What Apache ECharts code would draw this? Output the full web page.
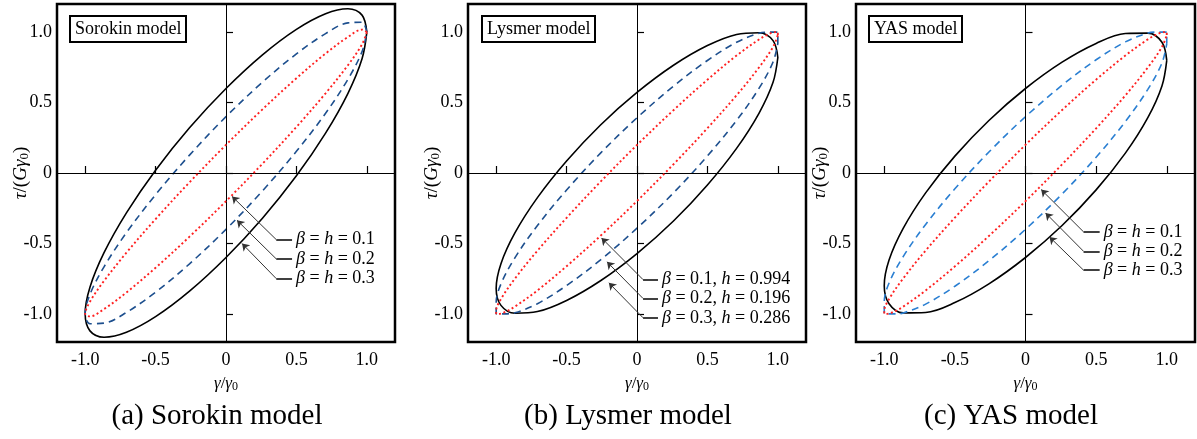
<!DOCTYPE html>
<html>
<head>
<meta charset="utf-8">
<script src="https://cdn.jsdelivr.net/npm/echarts@6/dist/echarts.min.js"></script>
<style>
html,body{margin:0;padding:0;background:#fff;}
#c{width:1197px;height:439px;}
</style>
</head>
<body>
<div id="c"></div>
<script>
// ---------- data ----------
const tickValues = [-1, -0.5, 0, 0.5, 1];

// (a) Sorokin model
const sorokinB03 = [[1,1],[0.966,1.121],[0.866,1.166],[0.707,1.131],[0.5,1.02],[0.259,0.839],[0,0.6],[-0.259,0.321],[-0.5,0.02],[-0.707,-0.283],[-0.866,-0.566],[-0.966,-0.811],[-1,-1],[-0.966,-1.121],[-0.866,-1.166],[-0.707,-1.131],[-0.5,-1.02],[-0.259,-0.839],[0,-0.6],[0.259,-0.321],[0.5,-0.02],[0.707,0.283],[0.866,0.566],[0.966,0.811],[1,1]];
const sorokinB02 = [[1,1],[0.966,1.07],[0.866,1.066],[0.707,0.99],[0.5,0.846],[0.259,0.645],[0,0.4],[-0.259,0.127],[-0.5,-0.154],[-0.707,-0.424],[-0.866,-0.666],[-0.966,-0.862],[-1,-1],[-0.966,-1.07],[-0.866,-1.066],[-0.707,-0.99],[-0.5,-0.846],[-0.259,-0.645],[0,-0.4],[0.259,-0.127],[0.5,0.154],[0.707,0.424],[0.866,0.666],[0.966,0.862],[1,1]];
const sorokinB01 = [[1,1],[0.966,1.018],[0.866,0.966],[0.707,0.848],[0.5,0.673],[0.259,0.452],[0,0.2],[-0.259,-0.066],[-0.5,-0.327],[-0.707,-0.566],[-0.866,-0.766],[-0.966,-0.914],[-1,-1],[-0.966,-1.018],[-0.866,-0.966],[-0.707,-0.848],[-0.5,-0.673],[-0.259,-0.452],[0,-0.2],[0.259,0.066],[0.5,0.327],[0.707,0.566],[0.866,0.766],[0.966,0.914],[1,1]];

// (b) Lysmer model
const lysmerB03 = [[1,0.82],[0.966,0.94],[0.866,0.996],[0.707,0.984],[0.5,0.905],[0.259,0.765],[0,0.572],[-0.259,0.341],[-0.5,0.085],[-0.707,-0.175],[-0.866,-0.424],[-0.966,-0.644],[-1,-0.82],[-0.966,-0.94],[-0.866,-0.996],[-0.707,-0.984],[-0.5,-0.905],[-0.259,-0.765],[0,-0.572],[0.259,-0.341],[0.5,-0.085],[0.707,0.175],[0.866,0.424],[0.966,0.644],[1,0.82]];
const lysmerB02 = [[1,0.92],[1,1],[0.92,1],[0.866,0.993],[0.707,0.928],[0.5,0.799],[0.259,0.617],[0,0.392],[-0.259,0.141],[-0.5,-0.121],[-0.707,-0.373],[-0.866,-0.601],[-0.966,-0.788],[-1,-0.92],[-1,-1],[-0.92,-1],[-0.866,-0.993],[-0.707,-0.928],[-0.5,-0.799],[-0.259,-0.617],[0,-0.392],[0.259,-0.141],[0.5,0.121],[0.707,0.373],[0.866,0.601],[0.966,0.788],[1,0.92]];
const lysmerB01 = [[1,0.98],[1,1],[0.98,1],[0.924,0.981],[0.866,0.948],[0.707,0.834],[0.5,0.662],[0.259,0.446],[0,0.199],[-0.259,-0.062],[-0.5,-0.318],[-0.707,-0.552],[-0.866,-0.749],[-0.966,-0.895],[-1,-0.98],[-1,-1],[-0.98,-1],[-0.924,-0.981],[-0.866,-0.948],[-0.707,-0.834],[-0.5,-0.662],[-0.259,-0.446],[0,-0.199],[0.259,0.062],[0.5,0.318],[0.707,0.552],[0.866,0.749],[0.966,0.895],[1,0.98]];

// (c) YAS model
const yasB03 = [[1,0.8],[0.966,0.928],[0.866,0.993],[0.707,0.99],[0.5,0.92],[0.259,0.787],[0,0.6],[-0.259,0.373],[-0.5,0.12],[-0.707,-0.141],[-0.866,-0.393],[-0.966,-0.618],[-1,-0.8],[-0.966,-0.928],[-0.866,-0.993],[-0.707,-0.99],[-0.5,-0.92],[-0.259,-0.787],[0,-0.6],[0.259,-0.373],[0.5,-0.12],[0.707,0.141],[0.866,0.393],[0.966,0.618],[1,0.8]];
const yasB02 = [[1,0.917],[1,1],[0.917,1],[0.866,0.994],[0.707,0.931],[0.5,0.804],[0.259,0.623],[0,0.4],[-0.259,0.149],[-0.5,-0.112],[-0.707,-0.365],[-0.866,-0.594],[-0.966,-0.781],[-1,-0.917],[-1,-1],[-0.917,-1],[-0.866,-0.994],[-0.707,-0.931],[-0.5,-0.804],[-0.259,-0.623],[0,-0.4],[0.259,-0.149],[0.5,0.112],[0.707,0.365],[0.866,0.594],[0.966,0.781],[1,0.917]];
const yasB01 = [[1,0.98],[1,1],[0.98,1],[0.924,0.981],[0.866,0.949],[0.707,0.834],[0.5,0.663],[0.259,0.447],[0,0.2],[-0.259,-0.061],[-0.5,-0.317],[-0.707,-0.551],[-0.866,-0.749],[-0.966,-0.895],[-1,-0.98],[-1,-1],[-0.98,-1],[-0.924,-0.981],[-0.866,-0.949],[-0.707,-0.834],[-0.5,-0.663],[-0.259,-0.447],[0,-0.2],[0.259,0.061],[0.5,0.317],[0.707,0.551],[0.866,0.749],[0.966,0.895],[1,0.98]];

const panelTitles = ['Sorokin model', 'Lysmer model', 'YAS model'];
const captions = ['(a) Sorokin model', '(b) Lysmer model', '(c) YAS model'];
const sorokinNotes = ['β = h = 0.1', 'β = h = 0.2', 'β = h = 0.3'];
const lysmerNotes = ['β = 0.1, h = 0.994', 'β = 0.2, h = 0.196', 'β = 0.3, h = 0.286'];
const yasNotes = ['β = h = 0.1', 'β = h = 0.2', 'β = h = 0.3'];

// annotation anchors (data units): arrow tips, elbow y's
const sorokinTips = [[0.043,-0.166],[0.078,-0.336],[0.114,-0.501]];
const sorokinElbowY = [-0.473,-0.61,-0.75];
const lysmerTips = [[-0.252,-0.461],[-0.213,-0.631],[-0.2,-0.78]];
const lysmerElbowY = [-0.757,-0.891,-1.028];
const yasTips = [[0.111,-0.118],[0.142,-0.284],[0.17,-0.454]];
const yasElbowY = [-0.418,-0.556,-0.69];

// ---------- layout / style ----------
const FONT = '"Liberation Serif", "Times New Roman", "DejaVu Serif", serif';
const RED = '#ff2020';
const panels = [
  {loops:[sorokinB03, sorokinB02, sorokinB01], blue:'#1d4f8e', tips:sorokinTips, ey:sorokinElbowY, ex:0.357, hx:0.469, notes:sorokinNotes,
   grid:{left:57, top:4, width:338, height:338}, boxLeft:70, capX:217},
  {loops:[lysmerB03, lysmerB02, lysmerB01], blue:'#1d4f8e', tips:lysmerTips, ey:lysmerElbowY, ex:0.043, hx:0.149, notes:lysmerNotes,
   grid:{left:468, top:4, width:338, height:338}, boxLeft:482, capX:628},
  {loops:[yasB03, yasB02, yasB01], blue:'#2a7fd2', tips:yasTips, ey:yasElbowY, ex:0.411, hx:0.525, notes:yasNotes,
   grid:{left:856, top:4, width:339, height:338}, boxLeft:869, capX:1011}
];

const fmt = v => (v === 0 ? '0' : v.toFixed(1));
const italicize = s => s.replace('β', '{i|β}').replace(' h ', ' {i|h} ');

const grids = [], xAxes = [], yAxes = [], series = [], titles = [], graphics = [];
panels.forEach((p, i) => {
  grids.push(Object.assign({show:true, borderColor:'#000', borderWidth:2.5, backgroundColor:'transparent'}, p.grid));
  xAxes.push({
    type:'value', gridIndex:i, min:-1.2, max:1.2, position:'bottom',
    axisLine:{show:false}, splitLine:{show:false},
    axisTick:{show:true, inside:true, length:7, customValues:tickValues, lineStyle:{color:'#000', width:1.2}},
    axisLabel:{customValues:tickValues, formatter:fmt, color:'#000', fontSize:18, fontFamily:FONT, margin:9},
    name:'{i|γ}/{i|γ}{s|0}', nameLocation:'middle', nameGap:32, nameMoveOverlap:false,
    nameTextStyle:{color:'#000', fontSize:17, fontFamily:FONT,
      rich:{i:{fontStyle:'italic', fontSize:17, fontFamily:FONT, color:'#000'}, s:{fontSize:12, fontFamily:FONT, color:'#000', verticalAlign:'bottom', padding:[7,0,0,0]}}}
  });
  yAxes.push({
    type:'value', gridIndex:i, min:-1.2, max:1.2,
    axisLine:{show:false}, splitLine:{show:false},
    axisTick:{show:true, inside:true, length:7, customValues:tickValues, lineStyle:{color:'#000', width:1.2}},
    axisLabel:{customValues:tickValues, formatter:fmt, color:'#000', fontSize:18, fontFamily:FONT, margin:5},
    name:'{i|τ}/({i|Gγ}{s|0})', nameLocation:'middle', nameGap:26, nameRotate:90, nameMoveOverlap:false,
    nameTextStyle:{color:'#000', fontSize:19, fontFamily:FONT,
      rich:{i:{fontStyle:'italic', fontSize:19, fontFamily:FONT, color:'#000'}, s:{fontSize:13, fontFamily:FONT, color:'#000', verticalAlign:'bottom', padding:[7,0,0,0]}}}
  });
  const styles = [
    {color:'#000', width:1.6, type:'solid'},
    {color:p.blue, width:1.6, type:[7,5]},
    {color:RED, width:1.9, type:[2,2.6]}
  ];
  p.loops.forEach((d, k) => {
    const s = {type:'line', xAxisIndex:i, yAxisIndex:i, data:d, showSymbol:false, symbol:'none', smooth:0.35,
      lineStyle:styles[k], z:3+k, silent:true};
    if (k === 0) {
      s.markLine = {silent:true, symbol:'none', label:{show:false}, animation:false,
        lineStyle:{color:'#000', width:1, type:'solid'}, data:[{xAxis:0}, {yAxis:0}]};
    }
    series.push(s);
  });
  // horizontal stubs
  series.push({type:'lines', coordinateSystem:'cartesian2d', xAxisIndex:i, yAxisIndex:i, symbol:'none', silent:true, z:6,
    lineStyle:{color:'#000', width:1.5, opacity:1},
    data:p.ey.map(y => ({coords:[[p.ex, y],[p.hx, y]]}))});
  // arrows
  series.push({type:'lines', coordinateSystem:'cartesian2d', xAxisIndex:i, yAxisIndex:i, symbol:['none','arrow'], symbolSize:7, silent:true, z:6,
    lineStyle:{color:'#333', width:1, opacity:1},
    data:p.tips.map((t, k) => ({coords:[[p.ex, p.ey[k]], t]}))});
  // annotation texts
  series.push({type:'scatter', xAxisIndex:i, yAxisIndex:i, symbolSize:0, silent:true, z:7,
    itemStyle:{opacity:1},
    data:p.ey.map(y => [p.hx, y]),
    label:{show:true, position:'right', distance:4, color:'#000', fontSize:18, fontFamily:FONT, opacity:1,
      formatter:q => italicize(p.notes[q.dataIndex]),
      rich:{i:{fontStyle:'italic', fontSize:18, fontFamily:FONT, color:'#000'}}}});
  titles.push({text:panelTitles[i], left:p.boxLeft, top:16, padding:[4,5,4,5], borderColor:'#000', borderWidth:2,
    textStyle:{color:'#000', fontSize:18, fontWeight:'normal', fontFamily:FONT}});
  graphics.push({type:'text', x:p.capX, y:416, silent:true,
    style:{text:captions[i], fill:'#000', fontSize:29, fontFamily:FONT, align:'center', verticalAlign:'middle'}});
});

const chart = echarts.init(document.getElementById('c'), null, {renderer:'canvas'});
chart.setOption({
  animation:false,
  backgroundColor:'#fff',
  title:titles,
  grid:grids,
  xAxis:xAxes,
  yAxis:yAxes,
  series:series,
  graphic:graphics
});
</script>
</body>
</html>
